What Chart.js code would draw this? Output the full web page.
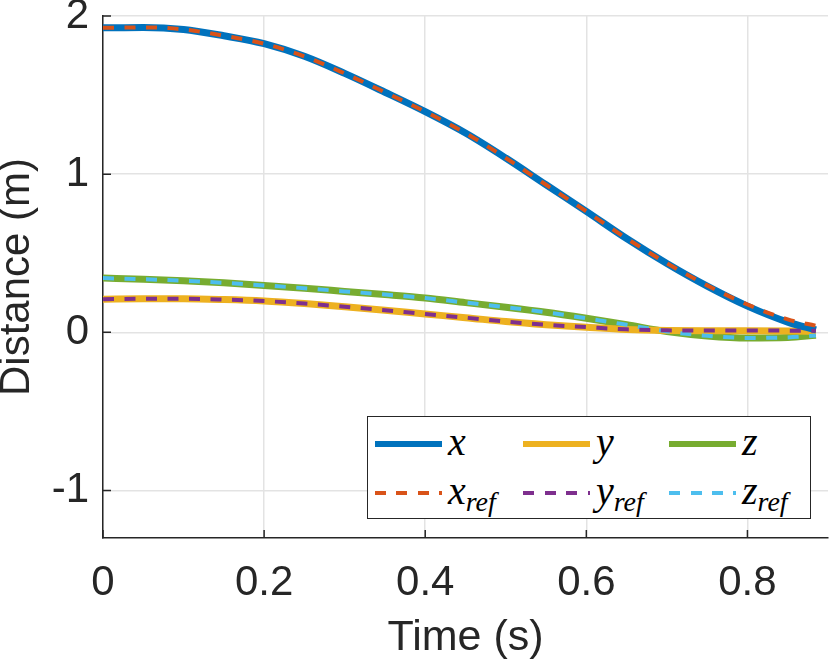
<!DOCTYPE html>
<html>
<head>
<meta charset="utf-8">
<script src="https://cdn.jsdelivr.net/npm/chart.js@4"></script>
<style>
  body { margin: 0; background: #fff; }
  #wrap { position: relative; width: 830px; height: 666px; }
  #legend {
    position: absolute; left: 367px; top: 416px; width: 442px; height: 101px;
    border: 1.5px solid #262626; background: #fff;
    font-family: "Liberation Serif", "DejaVu Serif", serif; font-style: italic; color: #000;
  }
  .item { position: absolute; height: 48px; }
  .swatch { position: absolute; left: 0; width: 67px; }
  .lbl { position: absolute; left: 73px; font-size: 40px; line-height: 40px; white-space: nowrap; }
  .lbl sub { font-size: 28px; vertical-align: -7px; line-height: 0; }
</style>
</head>
<body>
<div id="wrap">
  <canvas id="myChart" width="830" height="666"></canvas>
  <div id="legend"></div>
</div>
<script>
// tiempo (s)
const tiempo = [0, 0.05, 0.1, 0.15, 0.2, 0.25, 0.3, 0.35, 0.4, 0.45, 0.5, 0.55, 0.6, 0.65, 0.7, 0.75, 0.8, 0.85, 0.885];

// posiciones medidas y de referencia (m)
const xPos = [1.925, 1.928, 1.915, 1.875, 1.825, 1.745, 1.637, 1.518, 1.395, 1.26, 1.102, 0.933, 0.765, 0.593, 0.435, 0.292, 0.166, 0.065, 0.015];
const yPos = [0.21, 0.212, 0.212, 0.207, 0.198, 0.182, 0.162, 0.14, 0.116, 0.093, 0.068, 0.048, 0.032, 0.018, 0.012, 0.01, 0.01, 0.009, 0.006];
const zPos = [0.343, 0.336, 0.326, 0.313, 0.297, 0.279, 0.259, 0.239, 0.217, 0.188, 0.159, 0.127, 0.089, 0.048, 0.005, -0.023, -0.036, -0.033, -0.018];
const xRef = [1.925, 1.928, 1.915, 1.875, 1.825, 1.745, 1.637, 1.518, 1.395, 1.26, 1.102, 0.933, 0.765, 0.594, 0.437, 0.297, 0.176, 0.082, 0.042];
const yRef = [0.21, 0.212, 0.212, 0.207, 0.198, 0.182, 0.162, 0.14, 0.116, 0.093, 0.068, 0.048, 0.033, 0.019, 0.013, 0.011, 0.011, 0.011, 0.01];
const zRef = [0.343, 0.336, 0.326, 0.313, 0.297, 0.279, 0.259, 0.239, 0.217, 0.188, 0.159, 0.127, 0.089, 0.048, 0.006, -0.022, -0.035, -0.032, -0.02];

const xTicks = [0, 0.2, 0.4, 0.6, 0.8];
const yTicks = [-1, 0, 1, 2];

const TEXT = '#262626';
const FONT = '"Liberation Sans", Arial, sans-serif';

const pts = (vals) => vals.map((v, i) => ({ x: tiempo[i], y: v }));

const series = [
    { name: 'x', sub: '', data: xPos, color: '#0072BD', dashed: false },
    { name: 'y', sub: '', data: yPos, color: '#EDB120', dashed: false },
    { name: 'z', sub: '', data: zPos, color: '#77AC30', dashed: false },
    { name: 'x', sub: 'ref', data: xRef, color: '#D95319', dashed: true },
    { name: 'y', sub: 'ref', data: yRef, color: '#7E2F8E', dashed: true },
    { name: 'z', sub: 'ref', data: zRef, color: '#4DBEEE', dashed: true }
];

// marcas de eje hacia adentro, estilo MATLAB
const innerTicks = {
    id: 'innerTicks',
    afterDraw(chart) {
        const { ctx, chartArea: a, scales } = chart;
        ctx.save();
        ctx.strokeStyle = TEXT;
        ctx.lineWidth = 1.5;
        ctx.beginPath();
        scales.y.ticks.forEach(t => {
            const py = scales.y.getPixelForValue(t.value);
            ctx.moveTo(a.left, py);
            ctx.lineTo(a.left + 8, py);
        });
        scales.x.ticks.forEach(t => {
            const px = scales.x.getPixelForValue(t.value);
            ctx.moveTo(px, a.bottom);
            ctx.lineTo(px, a.bottom - 8);
        });
        ctx.stroke();
        ctx.restore();
    }
};

const ctx = document.getElementById('myChart').getContext('2d');
const myChart = new Chart(ctx, {
    type: 'line',
    data: {
        datasets: series.map(s => ({
            label: s.name + s.sub,
            data: pts(s.data),
            borderColor: s.color,
            borderWidth: s.dashed ? 4 : 7,
            borderDash: s.dashed ? [11, 10.5] : [],
            borderCapStyle: 'butt',
            pointRadius: 0,
            fill: false,
            cubicInterpolationMode: 'monotone',
            order: s.dashed ? 0 : 1
        }))
    },
    options: {
        responsive: false,
        animation: false,
        layout: { padding: { top: 16, right: 2, left: 0, bottom: 0 } },
        plugins: {
            legend: { display: false },
            tooltip: { enabled: false }
        },
        scales: {
            x: {
                type: 'linear',
                min: 0,
                max: 0.9,
                afterBuildTicks: (scale) => { scale.ticks = xTicks.map(v => ({ value: v })); },
                afterFit: (scale) => {
                    scale.height = 128;
                    scale.paddingLeft = 0;
                    scale.paddingRight = 0;
                },
                ticks: {
                    color: TEXT,
                    font: { family: FONT, size: 42 },
                    padding: 20,
                    maxRotation: 0,
                    callback: (v) => String(v)
                },
                grid: { color: '#e3e3e3', lineWidth: 1.5, drawTicks: false },
                border: { color: TEXT, width: 1.5 },
                title: {
                    display: true,
                    text: 'Time (s)',
                    color: TEXT,
                    font: { family: FONT, size: 43 },
                    padding: { top: 0, bottom: 2 }
                }
            },
            y: {
                type: 'linear',
                min: -1.3,
                max: 2,
                afterBuildTicks: (scale) => { scale.ticks = yTicks.map(v => ({ value: v })); },
                afterFit: (scale) => {
                    scale.width = 103;
                    scale.paddingTop = 0;
                    scale.paddingBottom = 0;
                },
                ticks: {
                    color: TEXT,
                    font: { family: FONT, size: 42 },
                    padding: 14,
                    callback: (v) => String(v)
                },
                grid: { color: '#e3e3e3', lineWidth: 1.5, drawTicks: false },
                border: { color: TEXT, width: 1.5 },
                title: {
                    display: true,
                    text: 'Distance (m)',
                    color: TEXT,
                    font: { family: FONT, size: 42 },
                    padding: { top: -8, bottom: 0 }
                }
            }
        }
    },
    plugins: [innerTicks]
});

// leyenda con subíndices
const legendCols = [7, 155, 301];
const legendRows = [27, 76];
const legend = document.getElementById('legend');
series.forEach((s, i) => {
    const item = document.createElement('div');
    item.className = 'item';
    item.style.left = legendCols[i % 3] + 'px';
    item.style.top = (legendRows[Math.floor(i / 3)] - 24) + 'px';
    const sw = document.createElement('div');
    sw.className = 'swatch';
    const h = s.dashed ? 4 : 6;
    sw.style.height = h + 'px';
    sw.style.top = (24 - h / 2) + 'px';
    sw.style.background = s.dashed
        ? `repeating-linear-gradient(to right, ${s.color} 0 11px, transparent 11px 21.5px)`
        : s.color;
    const lbl = document.createElement('div');
    lbl.className = 'lbl';
    lbl.style.top = '2px';
    lbl.innerHTML = s.name + (s.sub ? `<sub>${s.sub}</sub>` : '');
    item.appendChild(sw);
    item.appendChild(lbl);
    legend.appendChild(item);
});
</script>
</body>
</html>
